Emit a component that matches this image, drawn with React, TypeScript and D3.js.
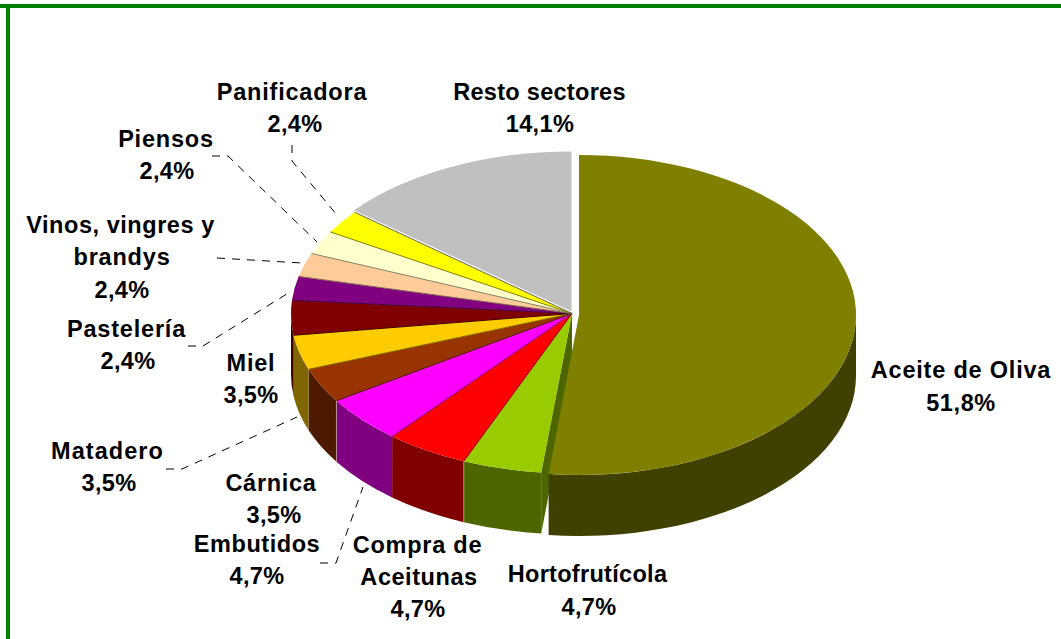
import React from "react";
import * as d3 from "d3";

const sectors = ["Aceite de Oliva","Hortofrutícola","Compra de Aceitunas","Embutidos","Cárnica","Matadero","Miel","Pastelería","Vinos, vingres y brandys","Piensos","Panificadora","Resto sectores"];
const shares = [51.8,4.7,4.7,4.7,3.5,3.5,3.5,2.4,2.4,2.4,2.4,14.1];
const topColors = ["#808000","#99CC00","#FF0000","#FF00FF","#993300","#FFCC00","#800000","#800080","#FFCC99","#FFFFCC","#FFFF00","#C0C0C0"];
const sideColors = ["#404000","#4D6600","#800000","#800080","#4D1A00","#806600","#400000","#400040","#806650","#808066","#808000","#606060"];
const wallSeams = ["Compra de Aceitunas","Cárnica"];

const W = 1061, H = 639;
const cx = 572, cy = 313.5, ry = 160, depth = 61;
const rxMain = 281, rxDetached = 277;
// explosion offsets of the two detached slices
const offsets: Record<string, [number, number]> = {
  "Aceite de Oliva": [7, 1.5],
  "Resto sectores": [-0.5, -2],
};

// text, x, y, letter spacing
const labelLayout: [string, number, number, number][][] = [
  [["Aceite de Oliva", 961, 378, 0.8], ["51,8%", 961, 411, 0.6]],
  [["Hortofrutícola", 587.5, 582, 0.3], ["4,7%", 589, 615, 0.4]],
  [["Compra de", 417.5, 553, 0.75], ["Aceitunas", 419, 585, 0.55], ["4,7%", 418, 617, 0.4]],
  [["Embutidos", 257, 552, 0.55], ["4,7%", 257, 584, 0.4]],
  [["Cárnica", 271, 491, 0.7], ["3,5%", 274, 523, 0.4]],
  [["Matadero", 107.5, 459, 1.05], ["3,5%", 109, 491, 0.4]],
  [["Miel", 251, 371, 0.8], ["3,5%", 251, 403, 0.4]],
  [["Pastelería", 126.5, 337, 0.8], ["2,4%", 128, 369, 0.4]],
  [["Vinos, vingres y", 120.5, 233, 0.55], ["brandys", 122, 265, 0.8], ["2,4%", 122, 298, 0.4]],
  [["Piensos", 166, 147, 0.8], ["2,4%", 167, 179, 0.4]],
  [["Panificadora", 292, 100, 0.8], ["2,4%", 295, 132, 0.4]],
  [["Resto sectores", 539.5, 100, 0.3], ["14,1%", 540, 132, 0.4]],
];

const leaders: [number, number][][] = [
  [[292, 145], [292, 161], [337, 215]],
  [[212, 156], [228, 156], [317, 242]],
  [[217, 258], [302, 263]],
  [[188, 346], [203, 346], [290, 292]],
  [[166, 469], [182, 469], [297, 417]],
  [[320, 563], [336, 563], [363, 487]],
];

// the reference's perspective pulls the front-left boundaries slightly toward the centre
const warp = (a: number) => {
  const a0 = (186.5 * Math.PI) / 180, a1 = (240 * Math.PI) / 180;
  if (a < a0 - 1e-6 - 0.001 || a >= a1) return a;
  return a - 0.014 * ((a1 - a) / (a1 - a0));
};

const pt = (a: number, rx = rxMain, ox = 0, oy = 0, dy = 0): [number, number] => [
  cx + ox + rx * Math.sin(a),
  cy + oy + dy - ry * Math.cos(a),
];

function wallPath(a0: number, a1: number, rx: number, ox: number, oy: number) {
  const s = Math.max(a0, Math.PI / 2), e = Math.min(a1, 1.5 * Math.PI);
  if (e <= s) return null;
  const p0 = pt(s, rx, ox, oy), p1 = pt(e, rx, ox, oy), p2 = pt(e, rx, ox, oy, depth), p3 = pt(s, rx, ox, oy, depth);
  return `M${p0}A${rx},${ry} 0 0 1 ${p1}L${p2}A${rx},${ry} 0 0 0 ${p3}Z`;
}

export default function App() {
  const arcs = d3.pie<number>().sort(null).startAngle(0).endAngle(2 * Math.PI)(shares)
    .map((a) => ({ ...a, startAngle: warp(a.startAngle), endAngle: warp(a.endAngle) }));
  const line = d3.line();
  const off = (i: number) => offsets[sectors[i]] ?? [0, 0];
  const rxOf = (i: number) => (i === 0 ? rxDetached : rxMain);
  const horto = arcs[1];
  return (
    <svg width={W} height={H} style={{ position: "absolute", left: 0, top: 0, background: "#fff" }}>
      <rect x={0} y={4} width={W} height={4} fill="#008000" />
      <rect x={6} y={4} width={4} height={H - 4} fill="#008000" />

      {/* radial cut face left visible by the detached slice */}
      <path d={line([[cx, cy], pt(horto.startAngle), pt(horto.startAngle, rxMain, 0, 0, depth), [cx, cy + depth]])!} fill={sideColors[1]} />

      {arcs.map((a, i) => {
        const [ox, oy] = off(i);
        const d = wallPath(a.startAngle, a.endAngle, rxOf(i), ox, oy);
        return i > 0 && d ? <path key={i} d={d} fill={sideColors[i]} /> : null;
      })}
      {wallSeams.map((n) => {
        const a = arcs[sectors.indexOf(n)];
        return <path key={n} d={line([pt(a.startAngle), pt(a.startAngle, rxMain, 0, 0, depth)])!} stroke="#fff" strokeOpacity={0.4} strokeWidth={1} />;
      })}
      <path d={wallPath(arcs[0].startAngle, arcs[0].endAngle, rxOf(0), ...off(0))!} fill={sideColors[0]} />

      {arcs.map((a, i) => {
        const [ox, oy] = off(i);
        const rx = rxOf(i);
        const top = d3.arc<any>().innerRadius(0).outerRadius(rx);
        return (
          <path key={i} d={top(a)!} fill={topColors[i]} transform={`translate(${cx + ox},${cy + oy}) scale(1,${ry / rx})`} />
        );
      })}
      {arcs.map((a, i) =>
        i > 1 ? (
          <path key={i} d={line([[cx, cy], pt(a.startAngle)])!} stroke={sideColors[i]} strokeWidth={1} fill="none" />
        ) : null
      )}

      {leaders.map((l, i) => (
        <path key={i} d={line(l)!} fill="none" stroke="#000" strokeWidth={1} strokeDasharray="8 7" />
      ))}

      <g fontFamily="'Liberation Sans', Arial, sans-serif" fontWeight="bold" fontSize={23.5} fill="#000" textAnchor="middle">
        {labelLayout.map((l, i) =>
          l.map(([t, x, y, s], j) => (
            <text key={`${i}-${j}`} x={x} y={y} letterSpacing={s}>{t}</text>
          ))
        )}
      </g>
    </svg>
  );
}
